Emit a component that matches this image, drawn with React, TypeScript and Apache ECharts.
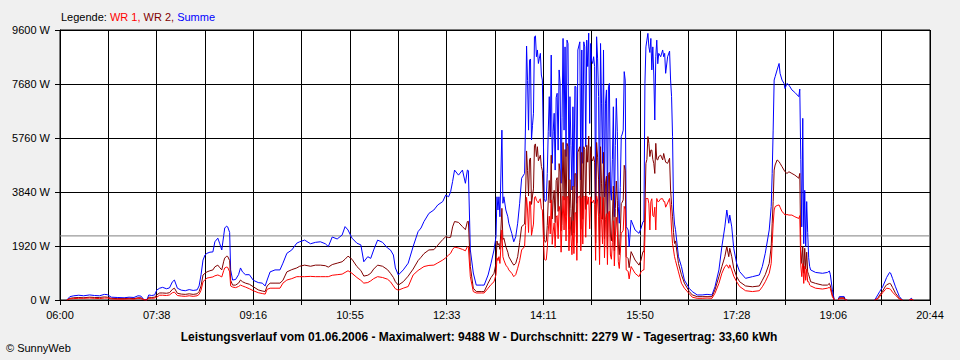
import React, { useEffect, useRef } from "react";
import * as echarts from "echarts";

// time in minutes after 06:00
const times: number[] = [
  7, 10, 14, 19, 24, 30, 35, 40, 45, 48,
  52, 58, 65, 70, 75, 79, 82, 85, 88, 90,
  93, 96, 98, 101, 104, 108, 111, 114, 116, 119,
  123, 127, 131, 135, 139, 141, 143, 145, 147, 149,
  152, 155, 157, 160, 162, 164, 166, 167, 169, 170,
  172, 173, 175, 178, 181, 183, 185, 188, 192, 196,
  201, 205, 208, 210, 213, 218, 223, 226, 230, 235,
  240, 243, 248, 254, 259, 264, 269, 272, 276, 281,
  286, 289, 292, 296, 301, 305, 308, 312, 315, 318,
  322, 327, 332, 335, 338, 340, 343, 348, 353, 358,
  363, 366, 369, 374, 379, 383, 388, 391, 394, 396,
  398, 400, 404, 408, 411, 413, 414, 416, 419, 422,
  427, 430, 434, 437, 440, 442, 443, 444, 445, 446,
  448, 449, 450, 452, 454, 455, 458, 460, 462, 464,
  466, 468, 471,
  472, 473, 474, 475, 476, 477, 478, 479, 480, 481,
  482, 483, 484, 485, 486, 487, 488, 489, 490, 491,
  492, 493, 494, 495, 496, 497, 498, 499, 500, 501,
  502, 503, 504, 505, 506, 507, 508, 509, 510, 511,
  512, 513, 514, 515, 516, 517, 518, 519, 520, 521,
  522, 523, 524, 525,
  527, 528, 529, 530, 531, 532, 533, 534, 535, 536,
  537, 538, 539, 540, 541, 542, 543, 544, 545, 546,
  547, 548, 549, 550, 551, 552, 553, 554, 555, 556,
  557, 558, 559, 560, 561, 562, 563, 564, 565, 566,
  567, 568, 569, 570, 571, 572, 573,
  574, 576, 577, 579, 583, 587, 589, 591, 592, 593,
  594, 595, 596, 597, 598, 599, 600, 601, 602, 603,
  604, 605, 606, 607, 609, 611, 612, 613, 614, 616,
  618, 619, 620, 621, 622, 623, 624, 627, 630, 633,
  638, 641, 646, 651, 656, 661, 664, 668, 671, 674,
  676, 678, 679, 681, 683, 686, 689, 695, 702, 709,
  712, 715, 719, 721, 722, 723, 724, 725, 727, 729,
  730, 732, 734, 735, 737, 739, 742, 745, 749, 750,
  751, 752, 753, 754, 755, 756, 757, 758, 759, 760,
  761, 766, 773, 778, 780, 781, 783, 785, 788, 789,
  790, 795, 796, 798, 810, 826, 829, 831, 834, 837,
  838, 841, 842, 844, 847, 851, 854, 858, 861, 863,
  865,
];

const summe: (number | null)[] = [
  0, 120, 150, 170, 150, 180, 160, 150, 200, 190,
  100, 90, 80, 100, 90, 150, 140, 20, 0, 180,
  160, 180, 350, 420, 450, 400, 430, 650, 710, 420,
  350, 330, 370, 340, 360, 500, 900, 1420, 1600, 1660,
  1700, 1710, 2070, 2200, 2000, 1780, 2300, 2560, 2630, 2600,
  2400, 1070, 710, 730, 900, 1140, 1000, 900, 900, 700,
  620, 600, 500, 710, 1000, 1070, 1070, 1310, 1660, 1780,
  2020, 2070, 2130, 2000, 2050, 2070, 2000, 1900, 2240, 2170,
  2310, 2610, 2490, 2200, 2020, 1960, 1360, 1540, 1480, 1780,
  2130, 2050, 1850, 1780, 1600, 1140, 890, 1070, 1310, 1900,
  2430, 2560, 2790, 3080, 3200, 3380, 3500, 3730, 3670, 3850,
  4210, 4620, 4440, 4620, 4150, 4620, 4600, 1780, 960, 530,
  530, 530, 890, 1310, 1780, 2250, 3670, 3200, 3670, 2960,
  6040, 3440, 3670, 3200, 2960, 2730, 2370, 2070, 2250, 2730,
  3440, 4330, 4500,
  6400, 9030, 7800, 6040, 8530, 8570, 5690, 6200, 6640, 9360,
  9390, 8650, 8890, 8410, 8600, 8770, 8000, 7820, 5810, 3610,
  3500, 3550, 4500, 6000, 7230, 5800, 8710, 4860, 6000, 6640,
  4620, 7200, 7350, 5330, 8180, 7700, 4150, 6500, 9300, 6040,
  9000, 5100, 9240, 9120, 4270, 7230, 5500, 3910, 6870, 4030,
  7600, 7580, 3440, 8890,
  9180, 4270, 8890, 4860, 9180, 9000, 5450, 9240, 8300, 9488,
  6280, 9120, 8500, 8410, 8650, 8300, 3440, 9360, 8600, 7230,
  3080, 9120, 7000, 4860, 8890, 3670, 7000, 7470, 3080, 7580,
  7700, 3910, 3550, 5000, 6870, 2960, 5500, 7170, 6000, 3320,
  2730, 4000, 5810, 5900, 6040, 8120, 7820,
  2610, 2490, 1900, 2840, 2490, 2370, 2550, 2780, 2800, 7700,
  9000, 9240, 9480, 9000, 8800, 9300, 8180, 9000, 8000, 6400,
  8650, 9240, 8400, 8770, 8650, 8890, 8650, 8770, 8060, 8650,
  8850, 7820, 7230, 5810, 3200, 2700, 2500, 1540, 1190, 710,
  410, 300, 180, 180, 200, 180, 470, 1070, 1900, 2600,
  3200, 2730, 3020, 2600, 1840, 1300, 1010, 770, 830, 890,
  1190, 1660, 2490, 3320, 4500, 6040, 7820, 7940, 8180, 8410,
  8060, 7820, 7700, 7520, 7700, 7640, 7470, 7380, 7230, 7500,
  5000, 2600, 6460, 2000, 3900, 1900, 3500, 2400, 1500, 1190,
  1070, 980, 950, 980, 1030, 900, 360, 0, null, 0,
  120, 120, 20, 0, null, 0, 180, 300, 470, 710,
  800, 980, 960, 770, 470, 120, 0, null, 0, 60,
  0,
];

const wr2: (number | null)[] = [
  0, 60, 80, 90, 80, 100, 90, 90, 110, 100,
  60, 50, 50, 60, 50, 80, 80, 10, 0, 100,
  90, 100, 180, 250, 250, 240, 260, 380, 420, 240,
  210, 200, 220, 200, 220, 300, 500, 890, 950, 1000,
  1040, 1070, 1180, 1240, 1150, 1070, 1380, 1490, 1560, 1550,
  1400, 700, 530, 530, 600, 710, 650, 600, 560, 470,
  360, 320, 300, 500, 600, 600, 600, 700, 1000, 1080,
  1140, 1200, 1240, 1200, 1240, 1240, 1220, 1170, 1260, 1310,
  1360, 1450, 1560, 1450, 1190, 1050, 850, 880, 950, 1100,
  1240, 1200, 1080, 950, 800, 650, 530, 650, 850, 1100,
  1400, 1520, 1650, 1780, 1790, 1950, 2150, 2250, 2220, 2230,
  2600, 2790, 2760, 2610, 2500, 2790, 2800, 1190, 420, 300,
  300, 300, 600, 800, 950, 1300, 2100, 1950, 2010, 1800,
  3260, 2150, 2200, 1900, 1700, 1540, 1350, 1240, 1300, 1540,
  2050, 2610, 2700,
  3750, 5300, 4600, 3700, 5000, 5050, 3400, 3700, 3950, 5500,
  5550, 5100, 5450, 4950, 5050, 5150, 4750, 4600, 3500, 2150,
  2050, 2100, 2650, 3550, 4250, 3450, 5150, 2880, 3550, 3900,
  2750, 4250, 4350, 3150, 4850, 4550, 2450, 3850, 5600, 3550,
  5350, 3000, 5570, 5450, 2520, 4280, 3250, 2300, 4050, 2380,
  4500, 4480, 2030, 5250,
  5450, 2520, 5250, 2870, 5450, 5350, 3220, 5500, 4900, 5830,
  3750, 5450, 5000, 4950, 5100, 4900, 2030, 5600, 5080, 4270,
  1820, 5450, 4130, 2870, 5250, 2170, 4130, 4400, 1820, 4470,
  4540, 2310, 2100, 2950, 4050, 1750, 3250, 4230, 3540, 1960,
  1610, 2360, 3430, 3480, 3560, 4790, 4610,
  1540, 1470, 1150, 1720, 1420, 1240, 1420, 1720, 1720, 3200,
  4860, 5000, 5810, 5570, 5100, 5330, 5330, 5000, 4860, 4500,
  5570, 5000, 4980, 5100, 5150, 4980, 5210, 5050, 4900, 4860,
  5040, 3910, 3400, 2960, 2400, 2010, 2100, 1300, 900, 600,
  300, 180, 120, 120, 120, 120, 360, 830, 1190, 1540,
  1900, 1540, 1840, 1540, 1130, 830, 650, 500, 470, 500,
  700, 900, 1300, 1900, 2730, 3500, 4620, 4800, 4980, 4920,
  4860, 4740, 4620, 4560, 4500, 4560, 4500, 4440, 4330, 4500,
  1800, 1300, 1900, 950, 1840, 1100, 1700, 1000, 900, 780,
  650, 590, 530, 530, 590, 500, 180, 0, null, 0,
  80, 80, 10, 0, null, 0, 60, 180, 320, 500,
  540, 590, 580, 450, 240, 60, 0, null, 0, 30,
  0,
];

const wr1: (number | null)[] = [
  0, 40, 50, 60, 60, 70, 60, 50, 70, 70,
  40, 30, 30, 40, 30, 60, 50, 10, 0, 60,
  60, 70, 100, 170, 170, 160, 180, 260, 280, 160,
  140, 130, 150, 130, 150, 200, 350, 650, 720, 780,
  800, 820, 860, 890, 860, 820, 1050, 1140, 1170, 1160,
  1000, 500, 460, 440, 480, 530, 500, 460, 400, 330,
  260, 230, 210, 380, 420, 420, 420, 600, 710, 760,
  830, 830, 830, 840, 830, 830, 830, 830, 880, 900,
  920, 980, 1040, 950, 800, 700, 600, 620, 680, 760,
  830, 800, 740, 650, 500, 400, 350, 420, 480, 890,
  1050, 1120, 1190, 1230, 1240, 1320, 1420, 1500, 1600, 1660,
  1800, 1880, 1850, 1800, 1750, 1900, 1880, 830, 300, 250,
  250, 250, 420, 550, 650, 900, 1500, 1400, 1540, 1300,
  2490, 1540, 1420, 1240, 1150, 1070, 950, 830, 900, 1130,
  1400, 1780, 1900,
  2650, 3650, 3200, 2400, 3500, 3500, 2300, 2500, 2700, 3650,
  3680, 3550, 3500, 3450, 3550, 3600, 3250, 3200, 2300, 1450,
  1420, 1430, 1850, 2450, 2980, 2350, 3560, 1980, 2450, 2740,
  1870, 2950, 3000, 2180, 3330, 3150, 1700, 2650, 3700, 2490,
  3650, 2100, 3670, 3670, 1750, 2950, 2250, 1610, 2820, 1650,
  3100, 3100, 1410, 3640,
  3700, 1750, 3640, 1990, 3700, 3650, 2230, 3700, 3400, 3660,
  2530, 3670, 3500, 3460, 3550, 3400, 1410, 3700, 3520, 2960,
  1260, 3670, 2870, 1990, 3640, 1500, 2870, 3070, 1260, 3110,
  3160, 1600, 1450, 2050, 2820, 1210, 2250, 2940, 2460, 1360,
  1120, 1640, 2380, 2420, 2480, 3330, 3210,
  1070, 1020, 750, 1190, 950, 830, 1000, 1070, 1070, 2250,
  3610, 3610, 3610, 3420, 2490, 3500, 3600, 3000, 2960, 3300,
  2490, 3610, 3500, 3500, 3600, 3600, 3500, 3500, 3300, 3450,
  3610, 3200, 2490, 2000, 1780, 1540, 1400, 1000, 600, 420,
  220, 100, 60, 60, 70, 60, 240, 590, 950, 1190,
  1250, 1130, 1250, 1070, 850, 650, 480, 330, 300, 330,
  470, 650, 950, 1300, 2010, 2700, 3200, 3320, 3360, 3380,
  3300, 3140, 3080, 3020, 3040, 3020, 3020, 2960, 2900, 3000,
  1240, 830, 1300, 590, 1200, 700, 1100, 650, 650, 530,
  500, 420, 390, 420, 450, 400, 120, 0, null, 0,
  50, 50, 10, 0, null, 0, 40, 120, 260, 380,
  420, 400, 380, 280, 170, 30, 0, null, 0, 20,
  0,
];

const average = 2279;
const xMax = 882;
const xStep = 49;
const xLabels = ["06:00", "07:38", "09:16", "10:55", "12:33", "14:11", "15:50", "17:28", "19:06", "20:44"];
const yMax = 9600;
const yStep = 1920;
const titleText =
  "Leistungsverlauf vom 01.06.2006 - Maximalwert: 9488 W - Durchschnitt: 2279 W - Tagesertrag: 33,60 kWh";

const FONT = "'Liberation Sans', Arial, sans-serif";

function pairs(vals: (number | null)[]) {
  return times.map((t, i) => [t, vals[i] === null || vals[i] === undefined ? "-" : vals[i]]);
}

export default function App() {
  const ref = useRef<HTMLDivElement>(null);
  useEffect(() => {
    document.body.style.margin = "0";
    const chart = echarts.init(ref.current!, null, { renderer: "svg" });
    const lineSeries = (name: string, color: string, vals: (number | null)[], z: number) => ({
      name,
      type: "line",
      data: pairs(vals),
      showSymbol: false,
      symbol: "none",
      connectNulls: false,
      z,
      lineStyle: { color, width: 1 },
      itemStyle: { color },
      emphasis: { disabled: true },
      silent: true,
    });
    chart.setOption({
      animation: false,
      backgroundColor: "#f0f0f0",
      textStyle: { fontFamily: FONT },
      grid: {
        left: 60,
        right: 30,
        top: 30,
        bottom: 60,
        show: true,
        backgroundColor: "#ffffff",
        borderColor: "#000000",
        borderWidth: 1,
        containLabel: false,
        outerBoundsMode: "none",
      },
      xAxis: {
        type: "value",
        min: 0,
        max: xMax,
        interval: xStep,
        axisLine: { show: true, lineStyle: { color: "#000", width: 1 } },
        axisTick: { show: true, inside: false, length: 5, lineStyle: { color: "#000" } },
        splitLine: { show: true, lineStyle: { color: "#000", width: 1 } },
        axisLabel: {
          show: true,
          interval: 0,
          showMinLabel: true,
          showMaxLabel: true,
          margin: 9,
          color: "#000",
          fontSize: 11,
          fontFamily: FONT,
          formatter: (v: number) => {
            const i = Math.round(v / xStep);
            return i % 2 === 0 ? xLabels[i / 2] ?? "" : "";
          },
        },
      },
      yAxis: {
        type: "value",
        min: 0,
        max: yMax,
        interval: yStep,
        axisLine: { show: true, lineStyle: { color: "#000", width: 1 } },
        axisTick: { show: true, inside: false, length: 5, lineStyle: { color: "#000" } },
        splitLine: { show: true, lineStyle: { color: "#000", width: 1 } },
        axisLabel: {
          margin: 10,
          color: "#000",
          fontSize: 11,
          fontFamily: FONT,
          formatter: (v: number) => `${v} W`,
        },
      },
      series: [
        {
          name: "avg",
          type: "line",
          data: [
            [0, average],
            [xMax, average],
          ],
          showSymbol: false,
          symbol: "none",
          z: 1,
          silent: true,
          lineStyle: { color: "#808080", width: 1 },
        },
        lineSeries("Summe", "#0000ff", summe, 2),
        lineSeries("WR 2", "#800000", wr2, 3),
        lineSeries("WR 1", "#ff0000", wr1, 4),
      ],
      graphic: [
        {
          type: "text",
          x: 61,
          y: 17,
          style: {
            text: "{k|Legende: }{a|WR 1, }{b|WR 2, }{c|Summe}",
            verticalAlign: "middle",
            font: `11px ${FONT}`,
            rich: {
              k: { fill: "#000", fontSize: 11, fontFamily: FONT },
              a: { fill: "#ff0000", fontSize: 11, fontFamily: FONT },
              b: { fill: "#800000", fontSize: 11, fontFamily: FONT },
              c: { fill: "#0000ff", fontSize: 11, fontFamily: FONT },
            },
          },
        },
        {
          type: "text",
          x: 479,
          y: 337,
          style: {
            text: titleText,
            align: "center",
            verticalAlign: "middle",
            fill: "#000",
            font: `bold 12px ${FONT}`,
          },
        },
        {
          type: "text",
          x: 6,
          y: 348,
          style: {
            text: "© SunnyWeb",
            verticalAlign: "middle",
            fill: "#000",
            font: `11px ${FONT}`,
          },
        },
      ],
    });
    return () => chart.dispose();
  }, []);
  return <div ref={ref} style={{ width: 960, height: 360 }} />;
}
